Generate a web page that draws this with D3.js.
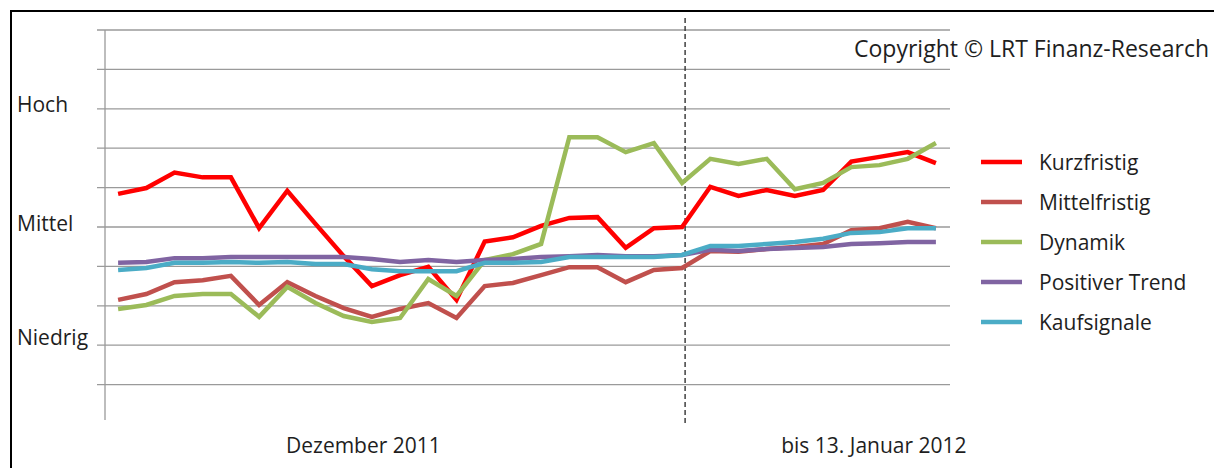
<!DOCTYPE html>
<html>
<head>
<meta charset="utf-8">
<script src="https://cdn.jsdelivr.net/npm/d3@7"></script>
<style>
  body { margin: 0; background: #fff; }
  text { font-family: "Open Sans", sans-serif; fill: #1e1e1e; }
</style>
</head>
<body>
<script>
// Handelstage Dez 2011 - 13. Jan 2012
var days = ["01.12","02.12","05.12","06.12","07.12","08.12","09.12","12.12","13.12","14.12",
            "15.12","16.12","19.12","20.12","21.12","22.12","23.12","27.12","28.12","29.12",
            "30.12","03.01","04.01","05.01","06.01","09.01","10.01","11.01","12.01","13.01"];

var kurzfristig = [5.84,5.99,6.38,6.26,6.26,4.97,5.92,5.08,4.26,3.50,3.78,3.99,3.15,4.63,4.74,
                   5.03,5.23,5.25,4.47,4.97,5.00,6.02,5.79,5.94,5.79,5.94,6.66,6.78,6.90,6.62];
var mittelfristig = [3.15,3.30,3.60,3.65,3.76,3.02,3.60,3.25,2.94,2.72,2.92,3.07,2.69,3.50,3.58,
                     3.78,3.98,3.98,3.60,3.91,3.96,4.39,4.37,4.44,4.49,4.57,4.92,4.97,5.13,4.97];
var dynamik = [2.92,3.02,3.25,3.30,3.30,2.72,3.48,3.07,2.74,2.59,2.69,3.68,3.25,4.16,4.31,
               4.57,7.28,7.28,6.90,7.13,6.12,6.73,6.60,6.73,5.96,6.12,6.52,6.57,6.73,7.13];
var positiverTrend = [4.09,4.11,4.21,4.21,4.24,4.24,4.24,4.24,4.24,4.19,4.11,4.16,4.11,4.16,4.19,
                      4.24,4.26,4.29,4.26,4.26,4.29,4.42,4.39,4.44,4.47,4.49,4.57,4.59,4.62,4.62];
var kaufsignale = [3.91,3.96,4.09,4.09,4.11,4.09,4.11,4.06,4.06,3.93,3.88,3.88,3.88,4.09,4.09,
                   4.11,4.24,4.24,4.24,4.24,4.29,4.52,4.52,4.57,4.62,4.70,4.85,4.87,4.97,4.97];

var serien = [
  {name: "Kurzfristig", werte: kurzfristig, farbe: "#ff0000"},
  {name: "Mittelfristig", werte: mittelfristig, farbe: "#c0504d"},
  {name: "Dynamik", werte: dynamik, farbe: "#9bbb59"},
  {name: "Positiver Trend", werte: positiverTrend, farbe: "#8064a2"},
  {name: "Kaufsignale", werte: kaufsignale, farbe: "#4bacc6"}
];

var gridWerte = [1,2,3,4,5,6,7,8,9,10];
var stufen = [{text: "Hoch", v: 7.92}, {text: "Mittel", v: 4.9}, {text: "Niedrig", v: 2.0}];
// mitte = position (in handelstagen) unter der die beschriftung steht
var perioden = [{text: "Dezember 2011", mitte: 8.7}, {text: "bis 13. Januar 2012", mitte: 26.8}];
var trennIndex = 20;

var svg = d3.select("body").append("svg").attr("width", 1214).attr("height", 468);

var x = d3.scalePoint().domain(days).range([104, 950]).padding(0.5);
var y = d3.scaleLinear().domain([0, 10]).range([424, 30]);
var xi = d3.scaleLinear().domain([0, days.length - 1]).range([x(days[0]), x(days[days.length - 1])]);

// rahmen
svg.append("rect").attr("x", 11).attr("y", 11).attr("width", 1400).attr("height", 600)
   .attr("fill", "none").attr("stroke", "#000").attr("stroke-width", 2);

// gitterlinien
svg.selectAll(".grid").data(gridWerte).enter().append("line")
   .attr("x1", 97).attr("x2", 950)
   .attr("y1", function(d){ return y(d); }).attr("y2", function(d){ return y(d); })
   .attr("stroke", "#9a9a9a").attr("stroke-width", 1.3);

// y-achse
svg.append("line").attr("x1", 105).attr("x2", 105).attr("y1", y(10)).attr("y2", 420)
   .attr("stroke", "#9a9a9a").attr("stroke-width", 1.3);

// trennlinie
var xt = x(days[trennIndex]) + 3;
svg.append("line").attr("x1", xt).attr("x2", xt).attr("y1", 18).attr("y2", 424)
   .attr("stroke", "#333").attr("stroke-width", 1.4).attr("stroke-dasharray", "5,3");

// linien
var line = d3.line()
  .x(function(d, i){ return x(days[i]); })
  .y(function(d){ return y(d); });

serien.forEach(function(s){
  svg.append("path").datum(s.werte).attr("d", line)
     .attr("fill", "none").attr("stroke", s.farbe).attr("stroke-width", 4.5)
     .attr("stroke-linejoin", "miter").attr("stroke-linecap", "butt");
});

// stufen-beschriftung
svg.selectAll(".stufe").data(stufen).enter().append("text")
   .attr("x", 17).attr("y", function(d){ return y(d.v); })
   .attr("font-size", 21).text(function(d){ return d.text; });

// perioden
svg.selectAll(".periode").data(perioden).enter().append("text")
   .attr("x", function(d){ return xi(d.mitte); })
   .attr("y", 453).attr("text-anchor", "middle").attr("font-size", 21)
   .text(function(d){ return d.text; });

// copyright
svg.append("text").attr("x", 1209).attr("y", 57).attr("text-anchor", "end")
   .attr("font-size", 23).text("Copyright © LRT Finanz-Research");

// legende
var leg = svg.selectAll(".leg").data(serien).enter().append("g")
   .attr("transform", function(d, i){ return "translate(981," + (162 + i * 40) + ")"; });
leg.append("line").attr("x1", 0).attr("x2", 41).attr("y1", 0).attr("y2", 0)
   .attr("stroke", function(d){ return d.farbe; }).attr("stroke-width", 4.5);
leg.append("text").attr("x", 58).attr("y", 8).attr("font-size", 21)
   .text(function(d){ return d.name; });
</script>
</body>
</html>
